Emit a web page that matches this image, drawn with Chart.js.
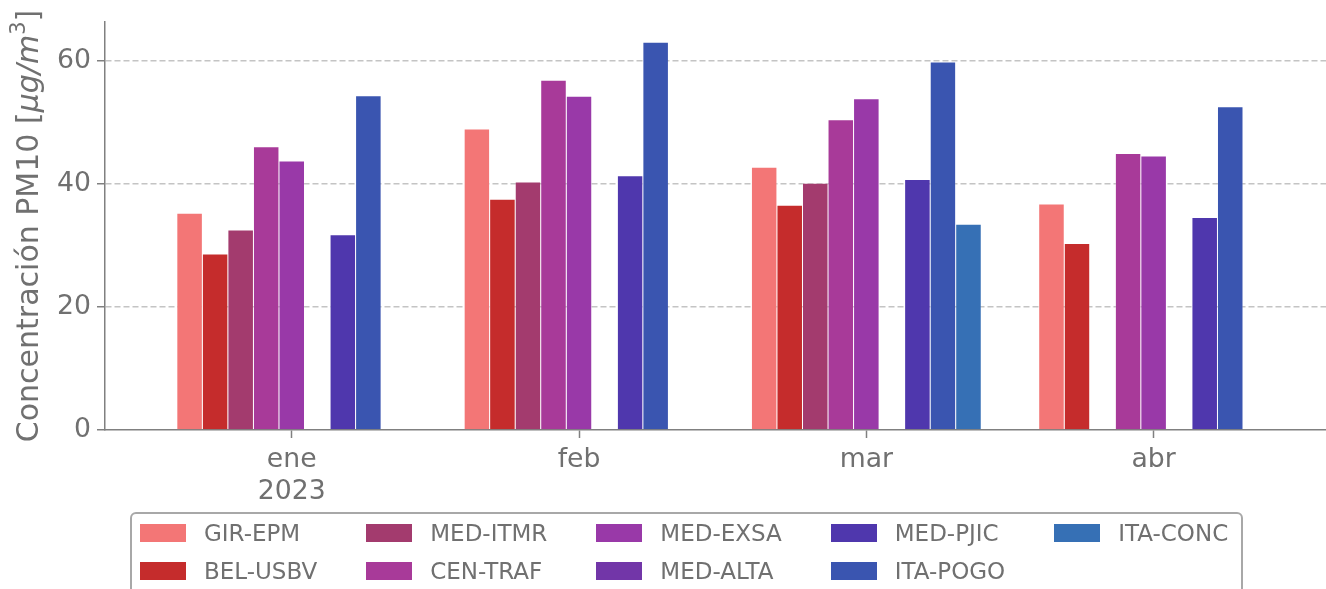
<!DOCTYPE html>
<html>
<head>
<meta charset="utf-8">
<script src="https://cdn.jsdelivr.net/npm/chart.js@4/dist/chart.umd.min.js"></script>
<style>
  body { margin: 0; background: #fff; }
  #wrap { position: relative; width: 1326px; height: 589px; overflow: hidden; }
  #legend {
    position: absolute; left: 130px; top: 512px; width: 1113px; height: 100px;
    border: 2px solid #a8a8a8; border-radius: 6px; box-sizing: border-box;
    padding: 9px 0 0 8px;
    display: grid; grid-auto-flow: column; grid-template-rows: 38px 38px;
    grid-auto-columns: max-content; column-gap: 49px;
    font-family: "DejaVu Sans", sans-serif; font-size: 23px; color: #707070;
  }
  .item { display: flex; align-items: center; height: 19px; }
  .swatch { width: 46px; height: 18px; margin-right: 18px; }
</style>
</head>
<body>
<div id="wrap">
  <canvas id="pm10Chart" width="1326" height="589"></canvas>
  <div id="legend"></div>
</div>
<script>
const months = [["ene", "2023"], "feb", "mar", "abr"];
const stations = ["GIR-EPM", "BEL-USBV", "MED-ITMR", "CEN-TRAF", "MED-EXSA", "MED-ALTA", "MED-PJIC", "ITA-POGO", "ITA-CONC"];
const colors = ["#f37676", "#c52c2c", "#a33b6e", "#a83a99", "#9939a8", "#7236a8", "#4f37ad", "#3a55b0", "#3670b5"];

// valores mensuales por estación (ene, feb, mar, abr)
const girEpm  = [35.3, 49.0, 42.8, 36.8];
const belUsbv = [28.7, 37.6, 36.6, 30.4];
const medItmr = [32.6, 40.4, 40.2, null];
const cenTraf = [46.1, 56.9, 50.5, 45.0];
const medExsa = [43.8, 54.3, 53.9, 44.6];
const medAlta = [null, null, null, null];
const medPjic = [31.8, 41.4, 40.8, 34.6];
const itaPogo = [54.4, 63.1, 59.9, 52.6];
const itaConc = [null, null, 33.5, null];
const seriesValues = [girEpm, belUsbv, medItmr, cenTraf, medExsa, medAlta, medPjic, itaPogo, itaConc];

const yTicks = [0, 20, 40, 60];

const grey = '#808080';
const textGrey = '#707070';
const font = { family: 'DejaVu Sans', size: 26.7 };

const datasets = stations.map((name, i) => ({
  label: name,
  data: seriesValues[i].map((v, j) => ({ x: j, y: v })),
  backgroundColor: colors[i],
  borderColor: 'rgba(255,255,255,0.4)',
  borderWidth: { top: 1, left: 0.5, right: 0.5, bottom: 0 },
  categoryPercentage: 0.8,
  barPercentage: 1.0
}));

// título del eje y con la parte de unidades en cursiva
const yTitlePlugin = {
  id: 'yTitle',
  afterDraw(chart) {
    const c = chart.ctx;
    const area = chart.chartArea;
    const parts = [
      { t: 'Concentración PM10 [', f: '30px "DejaVu Sans"', dy: 0 },
      { t: 'μg/m', f: 'italic 30px "DejaVu Sans"', dy: 0 },
      { t: '3', f: '21px "DejaVu Sans"', dy: -13 },
      { t: ']', f: '30px "DejaVu Sans"', dy: 0 }
    ];
    let total = 0;
    parts.forEach(p => { c.font = p.f; p.w = c.measureText(p.t).width; total += p.w; });
    c.save();
    c.translate(38, (area.top + area.bottom) / 2);
    c.rotate(-Math.PI / 2);
    c.fillStyle = textGrey;
    c.textBaseline = 'alphabetic';
    let x = -total / 2;
    parts.forEach(p => { c.font = p.f; c.fillText(p.t, x, p.dy); x += p.w; });
    c.restore();
  }
};

const chart = new Chart(document.getElementById('pm10Chart'), {
  type: 'bar',
  data: { datasets: datasets },
  plugins: [yTitlePlugin],
  options: {
    responsive: false,
    animation: false,
    layout: { padding: { top: 22, right: 0, left: 0, bottom: 0 } },
    plugins: { legend: { display: false }, tooltip: { enabled: false } },
    scales: {
      x: {
        type: 'linear',
        offset: false,
        min: -0.65,
        max: 3.6,
        afterBuildTicks: (scale) => { scale.ticks = months.map((m, i) => ({ value: i })); },
        afterFit: (scale) => { scale.height = 159; },
        ticks: {
          callback: (v) => months[v],
          color: textGrey,
          font: font,
          padding: 6,
          maxRotation: 0,
          autoSkip: false
        },
        grid: { offset: false, drawOnChartArea: false, tickLength: 8, tickColor: grey, tickWidth: 1.5 },
        border: { color: grey, width: 1.5 }
      },
      y: {
        min: 0,
        max: 66.3,
        afterBuildTicks: (scale) => { scale.ticks = yTicks.map(v => ({ value: v })); },
        afterFit: (scale) => { scale.width = 105; },
        ticks: { color: textGrey, font: font, padding: 6 },
        grid: {
          color: (ctx) => ctx.tick && ctx.tick.value === 0 ? 'rgba(0,0,0,0)' : '#c4c4c4',
          lineWidth: 1.5,
          tickLength: 8,
          tickColor: grey,
          tickWidth: 1.5
        },
        border: { color: grey, width: 1.5, dash: [6, 3] }
      }
    }
  }
});

// leyenda en columnas (orden por columnas como en la figura)
const legendEl = document.getElementById('legend');
chart.data.datasets.forEach(ds => {
  const item = document.createElement('div');
  item.className = 'item';
  item.innerHTML = '<span class="swatch" style="background:' + ds.backgroundColor + '"></span><span>' + ds.label + '</span>';
  legendEl.appendChild(item);
});
</script>
</body>
</html>
